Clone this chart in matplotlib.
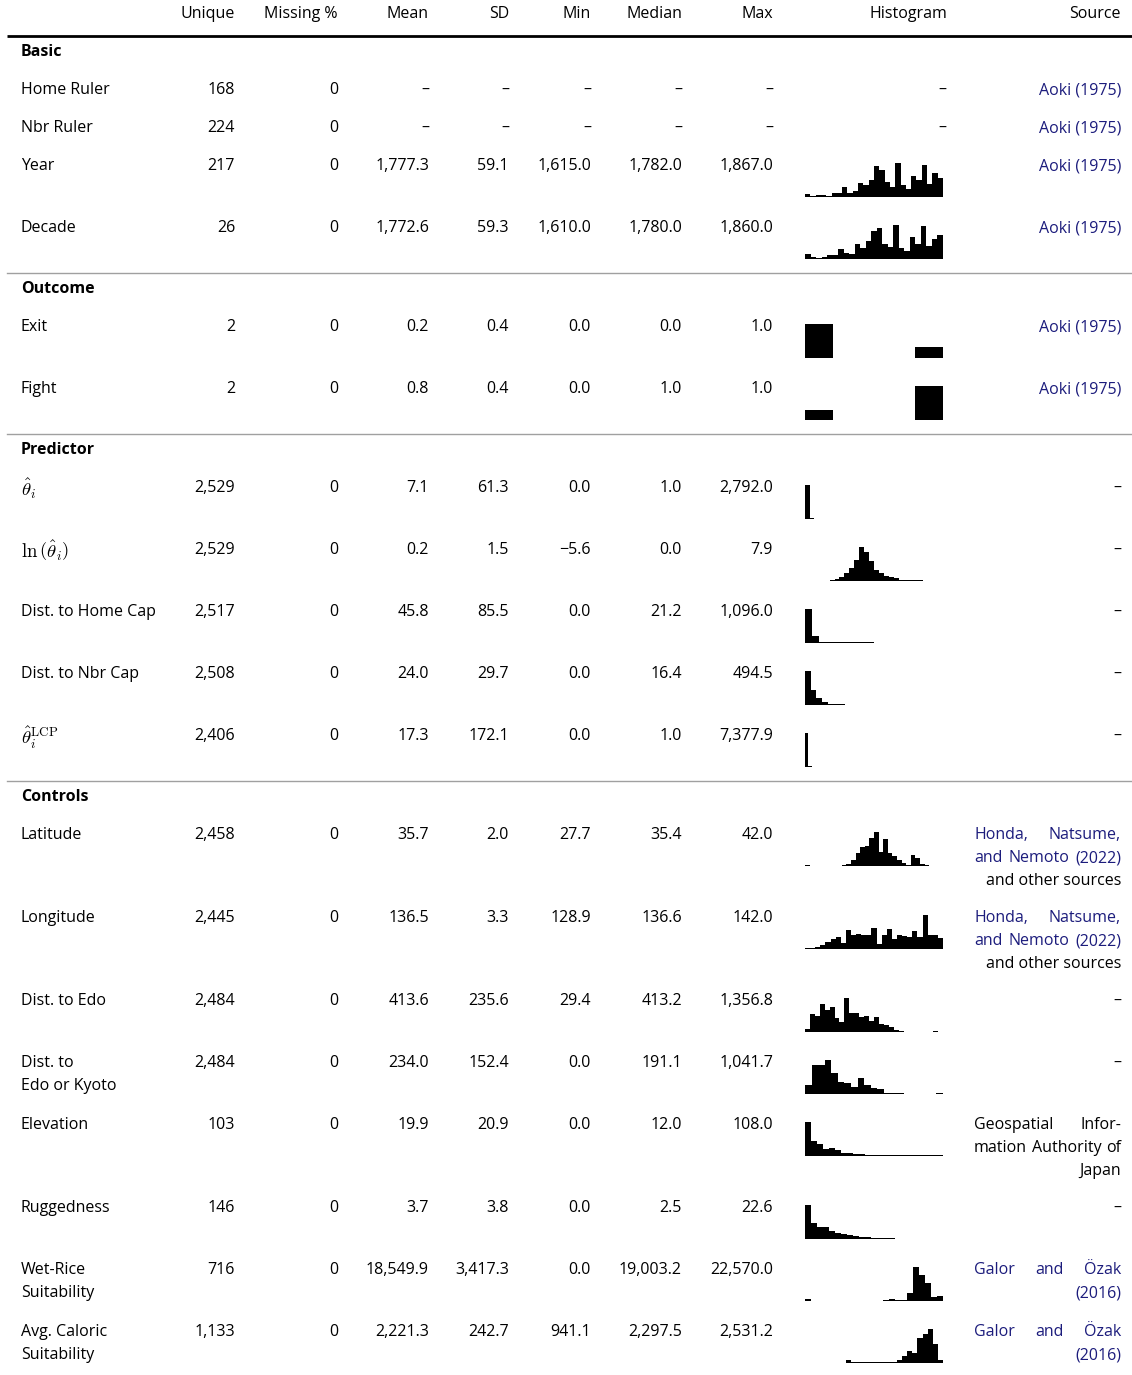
"""Summary-statistics table with inline histograms (ruler / conflict data)."""
import matplotlib
matplotlib.use("Agg")
import matplotlib.pyplot as plt
from matplotlib import font_manager

# pick a humanist sans that really ships a bold face
FAMILY = "DejaVu Sans"
for fam in ["Noto Sans", "Open Sans", "Lato", "Roboto"]:
    try:
        path = font_manager.findfont(font_manager.FontProperties(family=fam, weight="bold"),
                                     fallback_to_default=False)
    except Exception:
        continue
    if "bold" in path.lower():
        FAMILY = fam
        break
plt.rcParams["font.family"] = [FAMILY, "DejaVu Sans"]
plt.rcParams["mathtext.fontset"] = "cm"

W, H = 1132, 1375
FS = 11.5
MATH_FS = 13.5
LINK = "#1c1c7c"

HEADERS = ["Unique", "Missing %", "Mean", "SD", "Min", "Median", "Max", "Histogram", "Source"]
SECTIONS = ["Basic", "Outcome", "Predictor", "Controls"]

# one entry per variable
SECTION_OF = [0, 0, 0, 0, 1, 1, 2, 2, 2, 2, 2, 3, 3, 3, 3, 3, 3, 3, 3]
LABELS = [
    ["Home Ruler"], ["Nbr Ruler"], ["Year"], ["Decade"],
    ["Exit"], ["Fight"],
    [r"$\hat{\theta}_i$"], [r"$\ln\left(\hat{\theta}_i\right)$"],
    ["Dist. to Home Cap"], ["Dist. to Nbr Cap"], [r"$\hat{\theta}_i^{\mathrm{LCP}}$"],
    ["Latitude"], ["Longitude"], ["Dist. to Edo"], ["Dist. to", "Edo or Kyoto"],
    ["Elevation"], ["Ruggedness"], ["Wet-Rice", "Suitability"], ["Avg. Caloric", "Suitability"],
]
UNIQUE = [168, 224, 217, 26, 2, 2, 2529, 2529, 2517, 2508, 2406,
          2458, 2445, 2484, 2484, 103, 146, 716, 1133]
MISSING = [0] * 19
MEAN = [None, None, 1777.3, 1772.6, 0.2, 0.8, 7.1, 0.2, 45.8, 24.0, 17.3,
        35.7, 136.5, 413.6, 234.0, 19.9, 3.7, 18549.9, 2221.3]
SD = [None, None, 59.1, 59.3, 0.4, 0.4, 61.3, 1.5, 85.5, 29.7, 172.1,
      2.0, 3.3, 235.6, 152.4, 20.9, 3.8, 3417.3, 242.7]
MIN = [None, None, 1615.0, 1610.0, 0.0, 0.0, 0.0, -5.6, 0.0, 0.0, 0.0,
       27.7, 128.9, 29.4, 0.0, 0.0, 0.0, 0.0, 941.1]
MEDIAN = [None, None, 1782.0, 1780.0, 0.0, 1.0, 1.0, 0.0, 21.2, 16.4, 1.0,
          35.4, 136.6, 413.2, 191.1, 12.0, 2.5, 19003.2, 2297.5]
MAX = [None, None, 1867.0, 1860.0, 1.0, 1.0, 2792.0, 7.9, 1096.0, 494.5, 7377.9,
       42.0, 142.0, 1356.8, 1041.7, 108.0, 22.6, 22570.0, 2531.2]

AOKI = ["Aoki (1975)"]
HONDA = ["Honda, Natsume,", "and Nemoto (2022)", "and other sources"]
GSI = ["Geospatial Infor-", "mation Authority of", "Japan"]
GALOR = ["Galor and Özak", "(2016)"]
NONE_SRC = ["–"]
SOURCES = [AOKI, AOKI, AOKI, AOKI, AOKI, AOKI,
           NONE_SRC, NONE_SRC, NONE_SRC, NONE_SRC, NONE_SRC,
           HONDA, HONDA, NONE_SRC, NONE_SRC, GSI, NONE_SRC, GALOR, GALOR]
# number of leading source lines that are citation links
SOURCE_LINKED = [1, 1, 1, 1, 1, 1, 0, 0, 0, 0, 0, 2, 2, 0, 0, 0, 0, 2, 2]

# histogram bin heights
HIST_YEAR = [8, 3, 5, 5, 4, 12, 12, 28, 12, 16, 40, 34, 50, 88, 78, 42, 30, 98,
             35, 22, 60, 48, 92, 38, 70, 55]
HIST_DECADE = [14, 5, 4, 5, 12, 12, 28, 18, 14, 44, 32, 52, 80, 88, 42, 34, 98,
               32, 24, 64, 44, 94, 38, 58, 70]
HIST_EXIT = [100, 0, 0, 0, 31]
HIST_FIGHT = [30, 0, 0, 0, 100]
HIST_THETA = [100, 1.5, 1.2, 1, 1, 0.8, 0.8, 0.6, 0, 0, 0, 0, 0, 0, 0, 0,
              0, 0, 0, 0, 0, 0, 0, 0, 0, 0, 0, 0, 0, 0.6]
HIST_LNTHETA = [1, 1, 1, 1, 1, 1.5, 5, 10, 22, 35, 60, 95, 80, 55, 32,
                22, 14, 10, 8, 4, 2, 2, 1.5, 1.5, 1, 1, 1, 1]
HIST_HOMECAP = [100, 20, 2, 3, 1.5, 1.5, 1.5, 1.5, 2, 1.5, 0, 0, 0, 0, 0, 0, 0,
                1, 1, 1]
HIST_NBRCAP = [100, 44, 20, 10, 4, 1.5, 1.5, 1, 0, 1, 1, 0, 0, 0, 1, 1,
               0, 0, 0, 0, 0, 0, 0, 1]
HIST_LCP = [100, 1.5, 1, 1, 0.8, 0.8, 0.8, 0.6, 0.6, 0.6, 0, 0, 0, 0, 0,
            0, 0, 0, 0, 0, 0, 0, 0, 0, 0, 0, 0, 0, 0, 0, 0, 0, 0, 0, 0, 0, 0, 0,
            0, 0.6]
HIST_LAT = [2, 0, 0, 0, 1, 0, 1, 0, 3, 6, 18, 38, 55, 58, 82, 99, 40, 80, 38,
            28, 18, 8, 4, 32, 22, 6, 2, 0, 0, 0]
HIST_LON = [1.5, 2, 6, 12, 22, 30, 34, 18, 57, 42, 44, 42, 40, 62, 16, 40, 60, 30,
            40, 38, 34, 52, 34, 100, 42, 40, 32]
HIST_EDO = [8, 50, 45, 80, 62, 72, 40, 28, 97, 55, 55, 44, 45, 30, 42, 22, 20,
            14, 7, 2, 0, 1, 0, 0, 0, 0, 2, 1]
HIST_EDOKYOTO = [26, 84, 86, 100, 62, 36, 32, 22, 46, 26, 18, 14, 2, 1.5, 1.5, 1,
                 0, 0, 0, 0, 1.5]
HIST_ELEV = [100, 44, 36, 20, 24, 18, 10, 10, 5, 5, 3, 3, 3, 2, 2, 1.5, 1.5, 1.5,
             1.5, 1.5, 1.5, 1.5, 1.5]
HIST_RUGGED = [100, 48, 36, 34, 24, 18, 16, 12, 10, 6, 7, 3, 2, 1.5, 1.5, 1.2, 1.2,
               1, 1, 1, 1, 1, 1]
HIST_WETRICE = [5, 0, 0, 0, 0, 0, 0, 0, 0, 0, 0, 0, 0, 2, 5, 2, 4, 22, 98, 74,
                52, 12, 14]
HIST_CALORIC = [1, 0, 0, 0, 1, 1, 1, 1, 10, 3, 2, 1.5, 1.5, 3, 2, 1.5, 4, 4,
                8, 20, 34, 30, 74, 84, 100, 55, 8]
HISTS = [None, None, HIST_YEAR, HIST_DECADE, HIST_EXIT, HIST_FIGHT,
         HIST_THETA, HIST_LNTHETA, HIST_HOMECAP, HIST_NBRCAP, HIST_LCP,
         HIST_LAT, HIST_LON, HIST_EDO, HIST_EDOKYOTO, HIST_ELEV, HIST_RUGGED,
         HIST_WETRICE, HIST_CALORIC]

# layout (pixels)
COL_RIGHT = [235, 338, 429, 509, 591, 682, 773]
HIST_X0, HIST_X1 = 805, 943
HIST_TITLE_X = 908
SRC_X0, SRC_X1 = 974, 1121
LABEL_X = 21
LINE_H = 23


def fmt(v):
    return "–" if v is None else f"{v:,.1f}".replace("-", "−")


fig = plt.figure(figsize=(W / 100, H / 100), dpi=100)
ax = fig.add_axes([0, 0, 1, 1])
ax.set_xlim(0, W)
ax.set_ylim(H, 0)
ax.axis("off")
renderer = fig.canvas.get_renderer()


def put(x, y, s, ha="left", **kw):
    kw.setdefault("fontsize", MATH_FS if s.startswith("$") else FS)
    return ax.text(x, y, s, ha=ha, va="center_baseline", **kw)


def justify(y, line, color):
    words = line.split()
    if len(words) == 1:
        put(SRC_X1, y, line, ha="right", color=color)
        return
    texts = [put(0, y, w_, color=color) for w_ in words]
    widths = [t.get_window_extent(renderer).width for t in texts]
    gap = (SRC_X1 - SRC_X0 - sum(widths)) / (len(words) - 1)
    x = SRC_X0
    for t, wd in zip(texts, widths):
        t.set_x(x)
        x += wd + gap


# header
for i, h in enumerate(HEADERS[:7]):
    put(COL_RIGHT[i], 12, h, ha="right")
put(HIST_TITLE_X, 12, HEADERS[7], ha="center")
put(SRC_X1, 12, HEADERS[8], ha="right")
ax.plot([7, W], [36, 36], color="black", lw=2, solid_capstyle="butt")

y = 36
prev_sec = None
for i in range(len(LABELS)):
    sec = SECTION_OF[i]
    if sec != prev_sec:
        if prev_sec is not None:
            y += 47
            ax.plot([7, W], [y, y], color="#a0a0a0", lw=1)
        y += 14
        put(LABEL_X, y, SECTIONS[sec], fontweight="bold")
        y += 38
        prev_sec = sec
    elif i > 0:
        nlines = max(len(LABELS[i - 1]), len(SOURCES[i - 1]))
        base = 62 if HISTS[i - 1] is not None else 38
        y += max(base, LINE_H * nlines + 14)

    for k, line in enumerate(LABELS[i]):
        put(LABEL_X, y + k * LINE_H, line)
    put(COL_RIGHT[0], y, f"{UNIQUE[i]:,}", ha="right")
    put(COL_RIGHT[1], y, f"{MISSING[i]}", ha="right")
    for c, arr in enumerate([MEAN, SD, MIN, MEDIAN, MAX]):
        put(COL_RIGHT[c + 2], y, fmt(arr[i]), ha="right")

    src = SOURCES[i]
    for k, line in enumerate(src):
        color = LINK if k < SOURCE_LINKED[i] else "black"
        if k < len(src) - 1:
            justify(y + k * LINE_H, line, color)
        else:
            put(SRC_X1, y + k * LINE_H, line, ha="right", color=color)

    counts = HISTS[i]
    if counts is None:
        put(HIST_X1 + 3, y, "–", ha="right")
        continue
    top, bottom = y - 1, y + 33
    hax = fig.add_axes([HIST_X0 / W, 1 - bottom / H,
                        (HIST_X1 - HIST_X0) / W, (bottom - top) / H])
    hax.bar(range(len(counts)), counts, width=1.0, align="edge",
            color="black", linewidth=0)
    hax.set_xlim(0, len(counts))
    hax.set_ylim(0, max(counts))
    hax.axis("off")

fig.savefig("out.png", dpi=100)
